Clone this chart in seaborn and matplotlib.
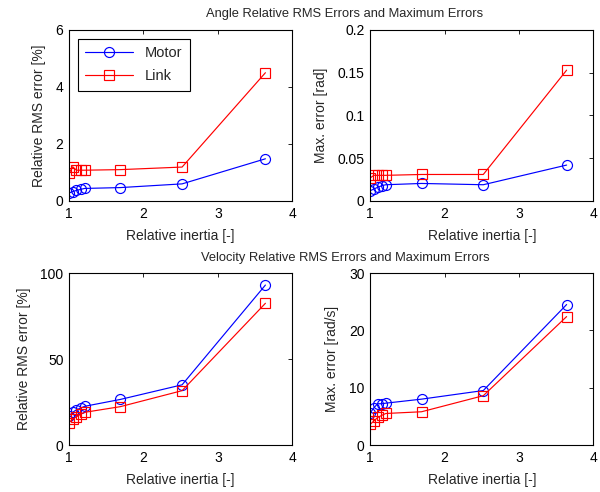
import numpy as np
import pandas as pd
import seaborn as sns
import matplotlib
import matplotlib.pyplot as plt

matplotlib.use('Agg')

# relative inertia (shared x values)
inertia = [1.0, 1.05, 1.1, 1.16, 1.21, 1.69, 2.52, 3.64]

# angle relative rms error [%]
angle_rms_motor = [0.28, 0.33, 0.37, 0.41, 0.44, 0.47, 0.60, 1.48]
angle_rms_link = [0.97, 1.20, 1.08, 1.08, 1.08, 1.10, 1.19, 4.50]

# angle max error [rad]
angle_max_motor = [0.012, 0.014, 0.016, 0.018, 0.019, 0.0205, 0.019, 0.042]
angle_max_link = [0.027, 0.030, 0.030, 0.030, 0.030, 0.031, 0.031, 0.153]

# velocity relative rms error [%]
vel_rms_motor = [17.0, 19.0, 20.5, 21.5, 22.5, 26.5, 35.0, 93.0]
vel_rms_link = [13.0, 15.0, 16.5, 18.0, 19.0, 22.3, 31.6, 82.4]

# velocity max error [rad/s]
vel_max_motor = [5.6, 6.5, 7.2, 7.2, 7.3, 8.0, 9.5, 24.5]
vel_max_link = [3.6, 4.2, 4.8, 5.2, 5.5, 5.8, 8.6, 22.4]

series_names = ['Motor', 'Link']

sns.set_theme(style='white')
plt.rcParams['font.family'] = ['Liberation Sans', 'DejaVu Sans']
plt.rcParams['axes.edgecolor'] = 'black'
plt.rcParams['axes.linewidth'] = 0.8

fig = plt.figure(figsize=(6, 4.92), dpi=100)
fig.patch.set_facecolor('white')

panels = [
    ([0.115, 0.5915, 0.372, 0.3476], angle_rms_motor, angle_rms_link,
     'Relative RMS error [%]', (0, 6), [0, 2, 4, 6], ['0', '2', '4', '6']),
    ([0.617, 0.5915, 0.372, 0.3476], angle_max_motor, angle_max_link,
     'Max. error [rad]', (0, 0.2), [0, 0.05, 0.1, 0.15, 0.2],
     ['0', '0.05', '0.1', '0.15', '0.2']),
    ([0.115, 0.0955, 0.372, 0.3496], vel_rms_motor, vel_rms_link,
     'Relative RMS error [%]', (0, 100), [0, 50, 100], ['0', '50', '100']),
    ([0.617, 0.0955, 0.372, 0.3496], vel_max_motor, vel_max_link,
     'Max. error [rad/s]', (0, 30), [0, 10, 20, 30], ['0', '10', '20', '30']),
]

fs = 10

for i, (pos, motor, link, ylab, ylim, yt, ytl) in enumerate(panels):
    ax = fig.add_axes(pos)
    sns.lineplot(x=inertia, y=motor, ax=ax, color='blue', marker='o',
                 markersize=7.2, markerfacecolor='none', markeredgecolor='blue',
                 markeredgewidth=0.85, linewidth=0.85, label=series_names[0],
                 legend=False, estimator=None, sort=False)
    sns.lineplot(x=inertia, y=link, ax=ax, color='red', marker='s',
                 markersize=7.2, markerfacecolor='none', markeredgecolor='red',
                 markeredgewidth=0.85, linewidth=0.85, label=series_names[1],
                 legend=False, estimator=None, sort=False)
    ax.set_xlim(1, 4)
    ax.set_ylim(*ylim)
    ax.set_xticks([1, 2, 3, 4])
    ax.set_xticklabels(['1', '2', '3', '4'])
    ax.set_yticks(yt)
    ax.set_yticklabels(ytl)
    ax.tick_params(axis='both', which='both', direction='in', top=True,
                   right=True, length=3, width=0.6, labelsize=fs, pad=4,
                   colors='black')
    ax.set_xlabel('Relative inertia [-]', fontsize=fs, labelpad=6)
    ax.set_ylabel(ylab, fontsize=fs, labelpad=7)
    for sp in ax.spines.values():
        sp.set_visible(True)
        sp.set_color('black')
    if i == 0:
        leg = ax.legend(loc='upper left', fontsize=10.5, frameon=True,
                        fancybox=False, edgecolor='black', framealpha=1,
                        borderpad=0.5, handlelength=3.3, labelspacing=0.65,
                        borderaxespad=0.6)
        leg.get_frame().set_linewidth(0.8)

fig.text(0.575, 0.972, 'Angle Relative RMS Errors and Maximum Errors',
         ha='center', va='center', fontsize=9.3)
fig.text(0.575, 0.476, 'Velocity Relative RMS Errors and Maximum Errors',
         ha='center', va='center', fontsize=9.3)

fig.savefig('out.png', dpi=100, facecolor='white')
